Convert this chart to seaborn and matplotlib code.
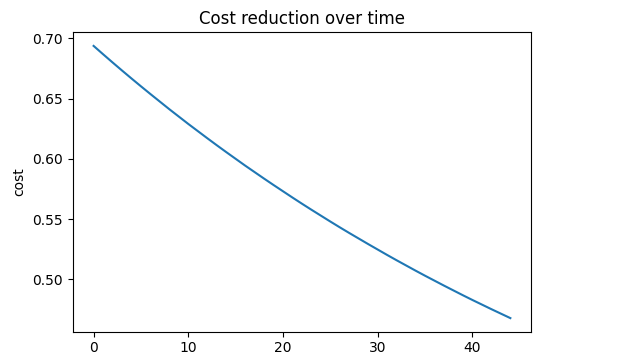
import matplotlib
matplotlib.use("Agg")
import matplotlib.pyplot as plt
import pandas as pd
import seaborn as sns

# iteration index and cost values
iterations = list(range(45))
cost = [
    0.6936, 0.6867, 0.6799, 0.6732, 0.6666, 0.6601, 0.6537, 0.6474, 0.6411, 0.6350,
    0.6289, 0.6230, 0.6171, 0.6113, 0.6056, 0.6000, 0.5944, 0.5890, 0.5836, 0.5783,
    0.5731, 0.5679, 0.5628, 0.5578, 0.5529, 0.5480, 0.5432, 0.5385, 0.5339, 0.5293,
    0.5248, 0.5203, 0.5159, 0.5116, 0.5073, 0.5031, 0.4990, 0.4949, 0.4909, 0.4869,
    0.4830, 0.4792, 0.4754, 0.4717, 0.4680,
]

df = pd.DataFrame({"iteration": iterations, "cost": cost})

fig, ax = plt.subplots(figsize=(6.22, 3.53), dpi=100)
fig.subplots_adjust(left=0.117, right=0.854, top=0.9085, bottom=0.0603)

sns.lineplot(data=df, x="iteration", y="cost", ax=ax, color="#1f77b4", linewidth=1.5)
ax.set_title("Cost reduction over time", fontsize=12)
ax.set_xlabel("")
ax.set_ylabel("cost")
ax.set_yticks([0.50, 0.55, 0.60, 0.65, 0.70])
ax.set_xticks([0, 10, 20, 30, 40])

plt.savefig("out.png", dpi=100)
